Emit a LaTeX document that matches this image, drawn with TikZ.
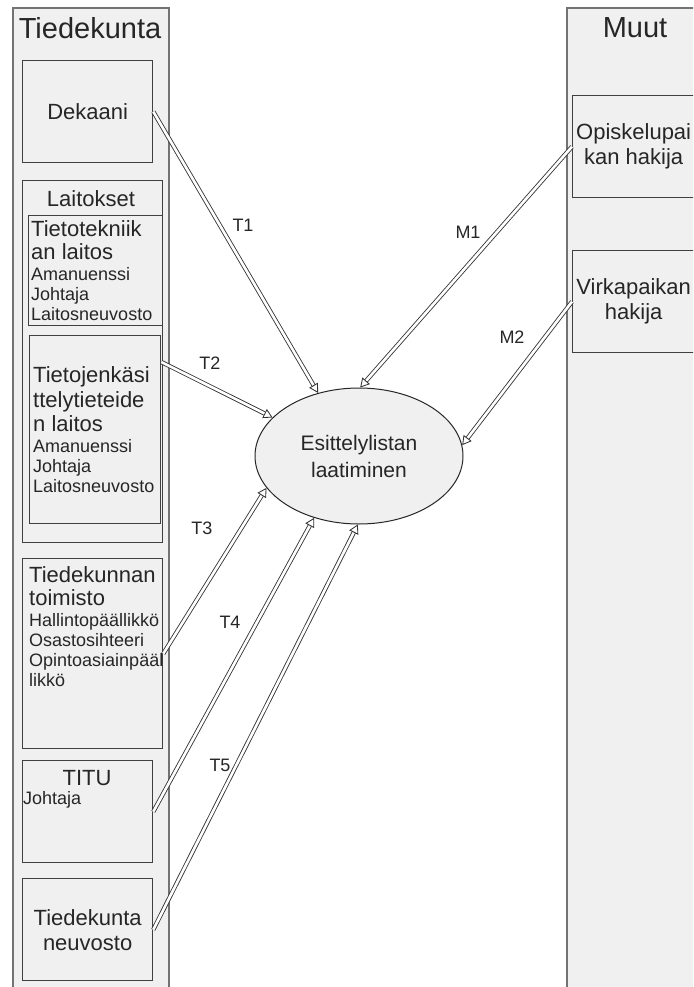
\documentclass[tikz,border=0pt]{standalone}
\usepackage{fontspec}
\setmainfont{Liberation Sans}
\usetikzlibrary{arrows.meta,shapes.geometric}
\newcommand{\titlesz}{\fontsize{29}{33}\selectfont}
\newcommand{\midsz}{\fontsize{22}{25}\selectfont}
\newcommand{\minsz}{\fontsize{18}{20}\selectfont}
\newcommand{\ellsz}{\fontsize{21}{27}\selectfont}
\begin{document}
\begin{tikzpicture}[x=1pt,y=-1pt,
  lane/.style={draw=black!55, line width=2pt, fill=black!6, inner sep=0pt, anchor=north west},
  box/.style={draw=black!75, line width=1.3pt, fill=black!6, inner sep=0pt, anchor=north west, text=black!85, align=center},
  txt/.style={inner sep=0pt, align=left, text=black!85},
  flow/.style={draw=black!80, line width=0.85pt, double=white, double distance=2.6pt,
               -{Triangle[open,length=9pt,width=10pt]}},
  lbl/.style={inner sep=0pt, text=black!85, font=\minsz}]
\useasboundingbox (0,0) rectangle (693,987);
\clip (0,0) rectangle (693,987);
\fill[white] (0,0) rectangle (693,987);

% swimlanes
\node[lane, minimum width=156, minimum height=1000] (tdk) at (12,7) {};
\node[txt, font=\titlesz] (tdkT) at (90,28) {Tiedekunta};
\node[lane, minimum width=140, minimum height=1000] (muut) at (566,7) {};
\node[txt, font=\titlesz] (muutT) at (635,28) {Muut};

% faculty side
\node[box, minimum width=130, minimum height=102, font=\midsz] (dek) at (22,60) {Dekaani};

\node[box, minimum width=140, minimum height=362] (lai) at (22,180) {};
\node[txt, font=\midsz] (laiT) at (91,199) {Laitokset};

\node[box, minimum width=134, minimum height=110] (ttk) at (28,215) {};
\node[txt, anchor=west, font=\minsz] (ttkT) at ([xshift=3pt]ttk.west)
  {\midsz Tietotekniik\\[3pt]\midsz an laitos\\[1pt]Amanuenssi\\Johtaja\\Laitosneuvosto};

\node[box, minimum width=131, minimum height=188] (tjk) at (29,335) {};
\node[txt, anchor=west, font=\minsz] (tjkT) at ([xshift=4pt]tjk.west)
  {\midsz Tietojenkäsi\\[3pt]\midsz ttelytieteide\\[3pt]\midsz n laitos\\[1pt]Amanuenssi\\Johtaja\\Laitosneuvosto};

\node[box, minimum width=140, minimum height=190] (tkt) at (22,558) {};
\node[txt, anchor=north west, font=\minsz] (tktT) at ([xshift=7pt,yshift=-8pt]tkt.north west)
  {\midsz Tiedekunnan\\[3pt]\midsz toimisto\\[1pt]Hallintopäällikkö\\Osastosihteeri\\Opintoasiainpääl\\likkö};

\node[box, minimum width=130, minimum height=102] (titu) at (22,760) {};
\node[txt, font=\midsz] (tituT) at (87,778) {TITU};
\node[txt, anchor=west, font=\minsz] (tituJ) at (23,800) {Johtaja};

\node[box, minimum width=130, minimum height=102, font=\midsz] (tkn) at (22,878) {Tiedekunta\\neuvosto};

% other parties
\node[box, minimum width=122, minimum height=102, font=\midsz] (op) at (572,95) {Opiskelupai\\kan hakija};
\node[box, minimum width=122, minimum height=102, font=\midsz] (vp) at (572,250) {Virkapaikan\\hakija};

% process
\node[ellipse, draw=black!85, line width=1pt, fill=black!6, inner sep=0pt,
      minimum width=208, minimum height=136, align=center, text=black!85, font=\ellsz] (ell) at (359,456)
  {Esittelylistan\\laatiminen};

% flows
\draw[flow] (dek.east) -- (ell.123.7);
\draw[flow] ([yshift=-27pt]tjk.north east) -- (ell.156.9);
\draw[flow] (tkt.east) -- (ell.199);
\draw[flow] (titu.east) -- (ell.234.6);
\draw[flow] (tkn.east) -- (ell.269);
\draw[flow] (op.west) -- (ell.89);
\draw[flow] (vp.west) -- (ell.6.1);

% flow labels
\node[lbl] (t1) at (243,225) {T1};
\node[lbl] (t2) at (210,363) {T2};
\node[lbl] (t3) at (202,528) {T3};
\node[lbl] (t4) at (230,622) {T4};
\node[lbl] (t5) at (220,765) {T5};
\node[lbl] (m1) at (468,232) {M1};
\node[lbl] (m2) at (512,337) {M2};
\end{tikzpicture}
\end{document}
